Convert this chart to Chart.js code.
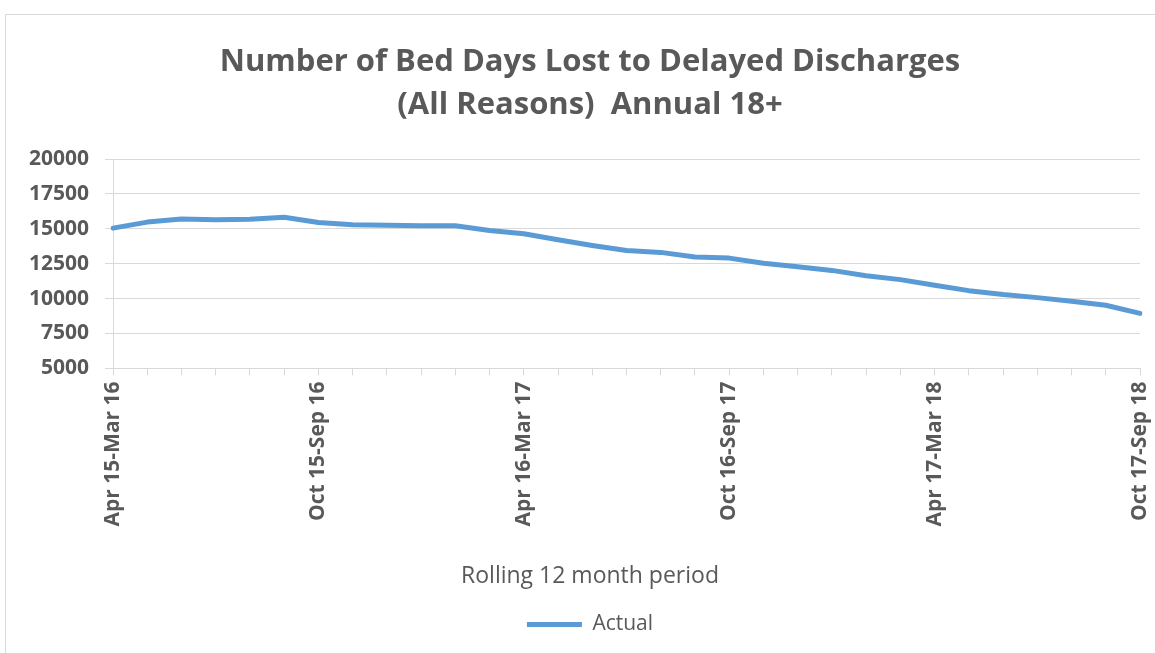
<!DOCTYPE html>
<html>
<head>
<meta charset="utf-8">
<script src="https://cdn.jsdelivr.net/npm/chart.js@4/dist/chart.umd.min.js"></script>
<style>
    html, body {
        margin: 0;
        padding: 0;
        background: #ffffff;
        overflow: hidden;
    }

    .chart-frame {
        position: absolute;
        left: 5px;
        top: 14px;
        width: 1168px;
        height: 660px;
        border: 1px solid #d9d9d9;
        overflow: hidden;
    }
</style>
</head>
<body>
<div class="chart-frame">
    <canvas id="bedDaysChart" width="1168" height="640"></canvas>
</div>

<script>
// Data

var periods = [
    'Apr 15-Mar 16', 'May 15-Apr 16', 'Jun 15-May 16', 'Jul 15-Jun 16', 'Aug 15-Jul 16', 'Sep 15-Aug 16',
    'Oct 15-Sep 16', 'Nov 15-Oct 16', 'Dec 15-Nov 16', 'Jan 16-Dec 16', 'Feb 16-Jan 17', 'Mar 16-Feb 17',
    'Apr 16-Mar 17', 'May 16-Apr 17', 'Jun 16-May 17', 'Jul 16-Jun 17', 'Aug 16-Jul 17', 'Sep 16-Aug 17',
    'Oct 16-Sep 17', 'Nov 16-Oct 17', 'Dec 16-Nov 17', 'Jan 17-Dec 17', 'Feb 17-Jan 18', 'Mar 17-Feb 18',
    'Apr 17-Mar 18', 'May 17-Apr 18', 'Jun 17-May 18', 'Jul 17-Jun 18', 'Aug 17-Jul 18', 'Sep 17-Aug 18',
    'Oct 17-Sep 18'
];

var actual = [
    15050, 15480, 15710, 15640, 15690, 15830,
    15450, 15290, 15260, 15210, 15220, 14880,
    14640, 14220, 13810, 13450, 13310, 12980,
    12900, 12530, 12280, 12020, 11640, 11360,
    10950, 10570, 10290, 10070, 9810, 9520,
    8940
];

var yTicks = [5000, 7500, 10000, 12500, 15000, 17500, 20000];

var titleLines = ['Number of Bed Days Lost to Delayed Discharges', '(All Reasons)  Annual 18+'];
var xAxisTitle = 'Rolling 12 month period';

// Styles
var lineColor = '#5b9bd5';
var textColor = '#595959';
var gridColor = '#d9d9d9';
var fontFamily = '"Open Sans", "Liberation Sans", sans-serif';

var data = {
    labels: periods,
    datasets: [{
        label: 'Actual',
        data: actual,
        borderColor: lineColor,
        backgroundColor: lineColor,
        borderWidth: 5,
        borderCapStyle: 'round',
        borderJoinStyle: 'round',
        pointRadius: 0,
        tension: 0
    }]
};

var options = {
    responsive: false,
    animation: false,
    layout: {
        padding: { left: 0, right: 0, top: 0, bottom: 10 }
    },
    scales: {
        x: {
            offset: false,
            grid: {
                drawOnChartArea: false,
                drawTicks: true,
                tickLength: 7,
                color: gridColor
            },
            border: { color: gridColor, width: 1 },
            ticks: {
                autoSkip: false,
                minRotation: 90,
                maxRotation: 90,
                padding: 6,
                color: textColor,
                font: { family: fontFamily, size: 21, weight: 'bold' },
                // only every 6th period gets a label
                callback: function (value, index) {
                    return index % 6 === 0 ? periods[index] : '';
                }
            },
            afterFit: function (scale) {
                scale.height = 180;
            }
        },
        y: {
            min: yTicks[0],
            max: yTicks[yTicks.length - 1],
            grid: {
                color: gridColor,
                drawTicks: true,
                tickLength: 8
            },
            border: { color: gridColor, width: 1 },
            ticks: {
                stepSize: 2500,
                padding: 16,
                color: textColor,
                font: { family: fontFamily, size: 21, weight: 'bold' },
                callback: function (value) {
                    return String(value);
                }
            },
            afterFit: function (scale) {
                scale.width = 107;
            }
        },
        // empty right axis, only keeps the plot clear of the right edge
        yRight: {
            position: 'right',
            display: true,
            grid: { display: false },
            border: { display: false },
            ticks: { display: false },
            afterFit: function (scale) {
                scale.width = 34;
            }
        }
    },
    plugins: {
        title: {
            display: true,
            text: titleLines,
            color: textColor,
            font: { family: fontFamily, size: 31, weight: 'bold', lineHeight: 43 / 31 },
            padding: { top: 26, bottom: 32 }
        },
        subtitle: {
            display: true,
            position: 'bottom',
            weight: 500,
            text: xAxisTitle,
            color: textColor,
            font: { family: fontFamily, size: 23, weight: 'normal' },
            padding: { top: 14, bottom: 14 }
        },
        legend: {
            display: true,
            position: 'bottom',
            weight: 1000,
            labels: {
                usePointStyle: true,
                pointStyle: 'line',
                pointStyleWidth: 55,
                boxHeight: 21,
                padding: 10,
                color: textColor,
                font: { family: fontFamily, size: 21 }
            }
        },
        tooltip: {
            enabled: false
        }
    }
};

var bedDaysChart = new Chart(document.getElementById('bedDaysChart'), {
    type: 'line',
    data: data,
    options: options
});
</script>
</body>
</html>
